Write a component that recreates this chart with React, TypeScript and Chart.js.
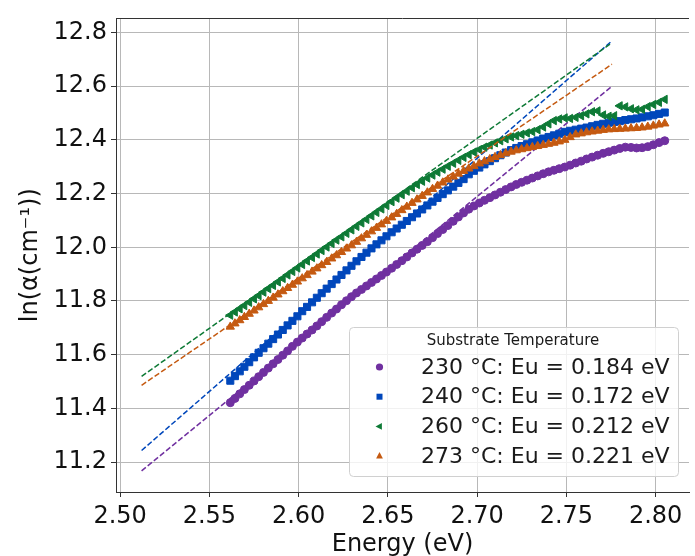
import React, { useEffect, useRef } from 'react';
import { Chart, registerables } from 'chart.js';

Chart.register(...registerables);

// Photon energy (eV), shared by all four measured series
const energies = [
  2.5617, 2.5643, 2.5670, 2.5696, 2.5723, 2.5750, 2.5776, 2.5803, 2.5830, 2.5857,
  2.5884, 2.5911, 2.5938, 2.5965, 2.5993, 2.6020, 2.6047, 2.6075, 2.6102, 2.6129,
  2.6157, 2.6185, 2.6212, 2.6240, 2.6268, 2.6296, 2.6324, 2.6352, 2.6380, 2.6408,
  2.6436, 2.6464, 2.6492, 2.6521, 2.6549, 2.6578, 2.6606, 2.6635, 2.6663, 2.6692,
  2.6721, 2.6750, 2.6778, 2.6807, 2.6836, 2.6866, 2.6895, 2.6924, 2.6953, 2.6982,
  2.7012, 2.7041, 2.7071, 2.7100, 2.7130, 2.7160, 2.7190, 2.7219, 2.7249, 2.7279,
  2.7309, 2.7339, 2.7370, 2.7400, 2.7430, 2.7460, 2.7491, 2.7521, 2.7552, 2.7583,
  2.7613, 2.7644, 2.7675, 2.7706, 2.7737, 2.7768, 2.7799, 2.7830, 2.7862, 2.7893,
  2.7924, 2.7956, 2.7987, 2.8019, 2.8051,
];

// ln(alpha) for each substrate temperature
const ln230 = [
  11.421, 11.437, 11.454, 11.470, 11.486, 11.502, 11.518, 11.534, 11.550, 11.566,
  11.582, 11.598, 11.614, 11.631, 11.647, 11.662, 11.677, 11.692, 11.707, 11.723,
  11.739, 11.755, 11.770, 11.786, 11.801, 11.816, 11.830, 11.843, 11.856, 11.869,
  11.882, 11.895, 11.908, 11.922, 11.936, 11.950, 11.964, 11.979, 11.993, 12.007,
  12.021, 12.036, 12.051, 12.066, 12.081, 12.097, 12.113, 12.128, 12.142, 12.154,
  12.165, 12.175, 12.185, 12.195, 12.205, 12.215, 12.225, 12.234, 12.242, 12.250,
  12.258, 12.266, 12.274, 12.281, 12.287, 12.293, 12.299, 12.306, 12.314, 12.321,
  12.329, 12.336, 12.343, 12.350, 12.356, 12.362, 12.368, 12.373, 12.372, 12.370,
  12.371, 12.375, 12.382, 12.390, 12.397,
];
const ln240 = [
  11.503, 11.520, 11.538, 11.555, 11.572, 11.590, 11.607, 11.624, 11.641, 11.658,
  11.675, 11.692, 11.709, 11.726, 11.743, 11.762, 11.778, 11.795, 11.812, 11.829,
  11.846, 11.863, 11.880, 11.897, 11.914, 11.931, 11.948, 11.964, 11.980, 11.996,
  12.011, 12.026, 12.041, 12.056, 12.070, 12.084, 12.098, 12.112, 12.126, 12.141,
  12.156, 12.170, 12.184, 12.198, 12.212, 12.226, 12.240, 12.254, 12.272, 12.285,
  12.297, 12.309, 12.321, 12.332, 12.343, 12.353, 12.362, 12.370, 12.377, 12.384,
  12.391, 12.398, 12.405, 12.411, 12.417, 12.423, 12.430, 12.434, 12.438, 12.442,
  12.446, 12.451, 12.456, 12.460, 12.464, 12.467, 12.470, 12.474, 12.477, 12.480,
  12.484, 12.488, 12.492, 12.497, 12.502,
];
const ln260 = [
  11.747, 11.759, 11.771, 11.783, 11.795, 11.808, 11.820, 11.833, 11.846, 11.858,
  11.871, 11.884, 11.897, 11.910, 11.923, 11.936, 11.949, 11.962, 11.975, 11.988,
  12.001, 12.014, 12.027, 12.039, 12.052, 12.065, 12.078, 12.091, 12.104, 12.117,
  12.130, 12.143, 12.156, 12.170, 12.183, 12.196, 12.209, 12.222, 12.234, 12.246,
  12.258, 12.269, 12.280, 12.291, 12.302, 12.313, 12.324, 12.335, 12.345, 12.355,
  12.364, 12.373, 12.381, 12.389, 12.397, 12.404, 12.411, 12.416, 12.421, 12.426,
  12.431, 12.438, 12.448, 12.460, 12.472, 12.478, 12.482, 12.480, 12.484, 12.490,
  12.497, 12.505, 12.508, 12.493, 12.488, 12.490, 12.527, 12.523, 12.516, 12.512,
  12.514, 12.524, 12.532, 12.540, 12.551,
];
const ln273 = [
  11.704, 11.716, 11.728, 11.740, 11.752, 11.764, 11.776, 11.788, 11.800, 11.812,
  11.824, 11.836, 11.848, 11.860, 11.872, 11.884, 11.896, 11.909, 11.921, 11.933,
  11.945, 11.958, 11.970, 11.982, 11.995, 12.007, 12.020, 12.033, 12.046, 12.059,
  12.072, 12.085, 12.098, 12.111, 12.124, 12.138, 12.151, 12.165, 12.178, 12.191,
  12.204, 12.217, 12.229, 12.241, 12.252, 12.263, 12.274, 12.284, 12.293, 12.302,
  12.312, 12.320, 12.328, 12.336, 12.343, 12.350, 12.356, 12.361, 12.365, 12.369,
  12.373, 12.377, 12.381, 12.385, 12.389, 12.394, 12.400, 12.410, 12.420, 12.424,
  12.428, 12.431, 12.434, 12.437, 12.439, 12.440, 12.441, 12.442, 12.443, 12.444,
  12.446, 12.449, 12.453, 12.457, 12.461,
];

// Linear (Urbach) fit lines: endpoints
const fitEnergies = [2.512, 2.7755];
const fit230 = [11.167, 12.600];
const fit240 = [11.243, 12.769];
const fit260 = [11.519, 12.762];
const fit273 = [11.486, 12.682];

const seriesLabels = [
  '230 °C: Eu = 0.184 eV',
  '240 °C: Eu = 0.172 eV',
  '260 °C: Eu = 0.212 eV',
  '273 °C: Eu = 0.221 eV',
];
const legendTitle = 'Substrate Temperature';
const xTitle = 'Energy (eV)';
const yTitle = 'ln(α(cm⁻¹))';

const colors = ['#7030A0', '#0047BB', '#0E7A36', '#C55A11'];
const FONT = "'DejaVu Sans', 'Liberation Sans', sans-serif";

const toPoints = (xs: number[], ys: number[]) => xs.map((x, i) => ({ x, y: ys[i] }));

function drawMarker(ctx: CanvasRenderingContext2D, kind: string, x: number, y: number, r: number) {
  ctx.beginPath();
  if (kind === 'circle') {
    ctx.arc(x, y, r, 0, Math.PI * 2);
  } else if (kind === 'rect') {
    ctx.rect(x - r, y - r, 2 * r, 2 * r);
  } else if (kind === 'left') {
    ctx.moveTo(x - r, y);
    ctx.lineTo(x + r * 0.6, y - r * 0.85);
    ctx.lineTo(x + r * 0.6, y + r * 0.85);
    ctx.closePath();
  } else {
    ctx.moveTo(x, y - r);
    ctx.lineTo(x + r * 0.85, y + r * 0.6);
    ctx.lineTo(x - r * 0.85, y + r * 0.6);
    ctx.closePath();
  }
  ctx.fill();
}

const framePlugin = {
  id: 'frameAndLegend',
  afterDraw(chart: any) {
    const { ctx, chartArea } = chart;
    ctx.save();
    // top spine
    ctx.strokeStyle = '#333333';
    ctx.lineWidth = 1;
    ctx.beginPath();
    ctx.moveTo(chartArea.left, Math.round(chartArea.top) + 0.5);
    ctx.lineTo(chartArea.right, Math.round(chartArea.top) + 0.5);
    ctx.stroke();

    // legend box
    const bx = 349.5, by = 327.5, bw = 329, bh = 149;
    ctx.beginPath();
    (ctx as any).roundRect(bx, by, bw, bh, 4);
    ctx.fillStyle = 'rgba(255,255,255,0.8)';
    ctx.fill();
    ctx.strokeStyle = '#d0d0d0';
    ctx.stroke();

    ctx.fillStyle = '#1a1a1a';
    ctx.font = `15px ${FONT}`;
    ctx.textAlign = 'center';
    ctx.textBaseline = 'middle';
    ctx.fillText(legendTitle, 513, 341);

    const kinds = ['circle', 'rect', 'left', 'up'];
    const sizes = [3.6, 3.0, 4.0, 4.0];
    ctx.font = `22px ${FONT}`;
    ctx.textAlign = 'left';
    seriesLabels.forEach((label, i) => {
      const cy = 367 + i * 29.7;
      ctx.fillStyle = colors[i];
      drawMarker(ctx, kinds[i], 379.5, cy, sizes[i]);
      ctx.fillStyle = '#1a1a1a';
      ctx.fillText(label, 421, cy + 1);
    });
    ctx.restore();
  },
};

export default function App() {
  const canvasRef = useRef<HTMLCanvasElement | null>(null);

  useEffect(() => {
    if (!canvasRef.current) return;
    const scatter = (i: number, ys: number[], style: string, radius: number, rotation: number, order: number) => ({
      type: 'scatter' as const,
      label: seriesLabels[i],
      data: toPoints(energies, ys),
      pointStyle: style,
      pointRadius: radius,
      pointRotation: rotation,
      pointBackgroundColor: colors[i],
      pointBorderColor: colors[i],
      pointBorderWidth: 1,
      backgroundColor: colors[i],
      borderColor: colors[i],
      showLine: false,
      order,
    });
    const fit = (i: number, ys: number[], order: number) => ({
      type: 'line' as const,
      label: 'fit ' + seriesLabels[i],
      data: toPoints(fitEnergies, ys),
      borderColor: colors[i],
      borderWidth: 1.5,
      borderDash: [5.5, 2.4],
      pointRadius: 0,
      showLine: true,
      fill: false,
      order,
    });

    const chart = new Chart(canvasRef.current, {
      type: 'scatter',
      data: {
        datasets: [
          scatter(0, ln230, 'circle', 4, 0, 8),
          fit(0, fit230, 7),
          scatter(1, ln240, 'rect', 5, 0, 6),
          fit(1, fit240, 5),
          scatter(2, ln260, 'triangle', 4.8, -90, 4),
          fit(2, fit260, 3),
          scatter(3, ln273, 'triangle', 4.8, 0, 2),
          fit(3, fit273, 1),
        ] as any,
      },
      options: {
        animation: false,
        responsive: false,
        devicePixelRatio: 1,
        layout: { padding: { left: 0, right: 0, top: 13, bottom: 0 } },
        plugins: {
          legend: { display: false },
          tooltip: { enabled: false },
        },
        scales: {
          x: {
            type: 'linear',
            min: 2.49767,
            max: 2.81868,
            afterFit: (s: any) => { s.height = 64; },
            ticks: {
              stepSize: 0.05,
              includeBounds: false,
              color: '#111111',
              font: { family: FONT, size: 24 },
              padding: 5,
              callback: (v: any) => Number(v).toFixed(2),
            },
            grid: { color: '#b8b8b8', lineWidth: 1, tickLength: 5, tickColor: '#333333' },
            border: { color: '#333333', width: 1 },
            title: {
              display: true,
              text: xTitle,
              color: '#111111',
              font: { family: FONT, size: 24 },
              padding: { top: 0, bottom: -3 },
            },
          },
          y: {
            type: 'linear',
            min: 11.0884,
            max: 12.8527,
            afterFit: (s: any) => { s.width = 116; },
            ticks: {
              stepSize: 0.2,
              includeBounds: false,
              color: '#111111',
              font: { family: FONT, size: 24 },
              padding: 4,
              callback: (v: any) => Number(v).toFixed(1),
            },
            grid: { color: '#b8b8b8', lineWidth: 1, tickLength: 5, tickColor: '#333333' },
            border: { color: '#333333', width: 1 },
            title: {
              display: true,
              text: yTitle,
              color: '#111111',
              font: { family: FONT, size: 24 },
              padding: { top: 16, bottom: 0 },
            },
          },
        },
      },
      plugins: [framePlugin],
    });
    return () => chart.destroy();
  }, []);

  return (
    <div style={{ position: 'fixed', left: 0, top: 0, width: 695, height: 556, background: '#ffffff' }}>
      <canvas ref={canvasRef} width={695} height={556} style={{ display: 'block' }} />
    </div>
  );
}
